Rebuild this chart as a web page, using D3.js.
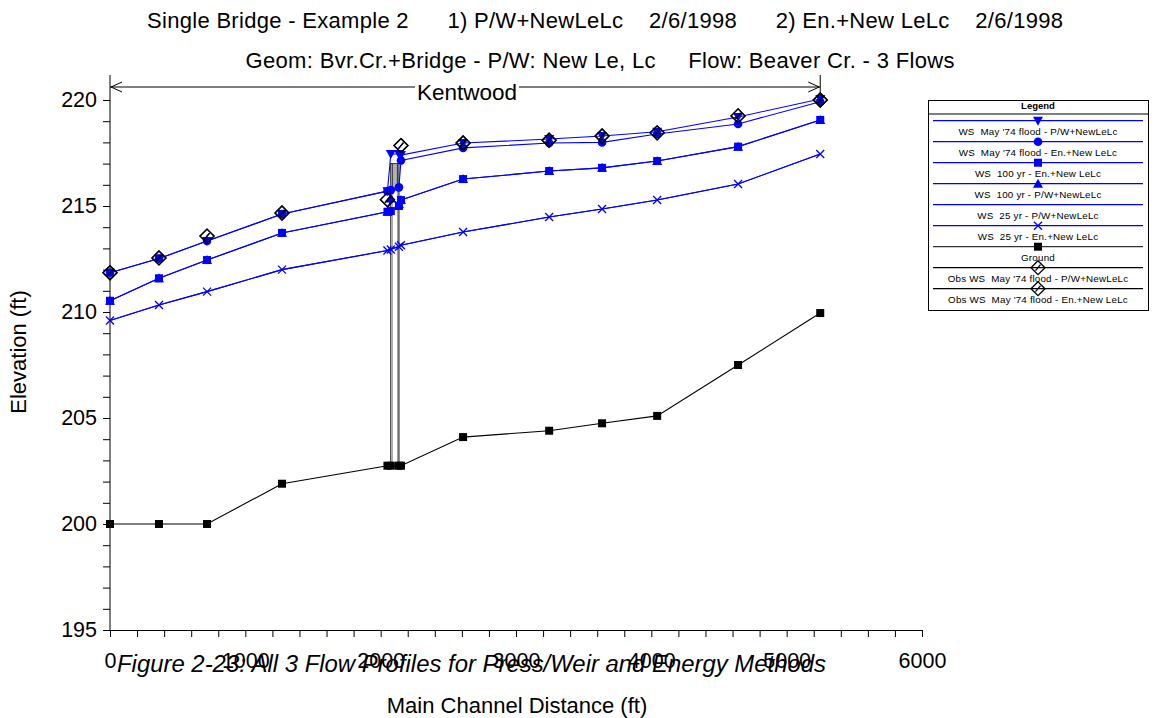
<!DOCTYPE html>
<html><head><meta charset="utf-8">
<script src="https://cdn.jsdelivr.net/npm/d3@7"></script>
<style>body{margin:0;background:#fff} text{font-family:"Liberation Sans",Arial,sans-serif}</style>
</head><body><svg id="c" width="1157" height="718" xmlns="http://www.w3.org/2000/svg"></svg>
<script>
// ---- data ----
const stations = [0, 362, 717, 1271, 2050, 2075, 2135, 2150, 2609, 3245, 3636, 4043, 4641, 5248];
const ground   = [200.0, 200.0, 200.0, 201.9, 202.75, 202.75, 202.75, 202.75, 204.1, 204.4, 204.75, 205.1, 207.5, 209.95];
const ws25PW   = [209.6, 210.33, 210.96, 212.0, 212.9, 212.97, 213.1, 213.15, 213.77, 214.48, 214.86, 215.28, 216.04, 217.45];
const ws25En   = [209.6, 210.33, 210.96, 212.0, 212.9, 212.95, 213.08, 213.15, 213.77, 214.48, 214.86, 215.28, 216.04, 217.45];
const ws100En  = [210.53, 211.59, 212.45, 213.73, 214.73, 214.76, 215.0, 215.28, 216.27, 216.65, 216.8, 217.12, 217.8, 219.06];
const ws100PW  = [210.53, 211.59, 212.45, 213.73, 214.73, 215.35, 215.1, 215.28, 216.27, 216.65, 216.8, 217.12, 217.8, 219.06];
const wsMayPW  = [211.85, 212.52, 213.35, 214.62, 215.7, 217.45, 217.45, 217.4, 217.97, 218.16, 218.3, 218.5, 219.2, 220.05];
const wsMayEn  = [211.85, 212.52, 213.35, 214.62, 215.7, 215.75, 215.88, 217.15, 217.74, 217.97, 218.0, 218.4, 218.87, 219.92];
const obsStations = [0, 362, 717, 1271, 2050, 2150, 2609, 3245, 3636, 4043, 4641, 5248];
const obsMayPW = [211.85, 212.55, 213.58, 214.67, 215.3, 217.85, 217.97, 218.1, 218.3, 218.45, 219.25, 220.0];
const obsMayEn = [211.85, 212.55, 213.58, 214.67, 215.3, 217.85, 217.97, 218.1, 218.3, 218.45, 219.25, 220.0];
const bridgeFaces = [2075, 2135];
const bridgeChords = [215.75, 217.0];
const reachStart = 0, reachEnd = 5248, reachName = "Kentwood";
const xTickValues = d3.range(0, 6001, 200);
const yTickValues = d3.range(195, 221, 1);
const legendLabels = [
  "WS  May '74 flood - P/W+NewLeLc",
  "WS  May '74 flood - En.+New LeLc",
  "WS  100 yr - En.+New LeLc",
  "WS  100 yr - P/W+NewLeLc",
  "WS  25 yr - P/W+NewLeLc",
  "WS  25 yr - En.+New LeLc",
  "Ground",
  "Obs WS  May '74 flood - P/W+NewLeLc",
  "Obs WS  May '74 flood - En.+New LeLc"
];
const titleLine1 = "Single Bridge - Example 2      1) P/W+NewLeLc    2/6/1998      2) En.+New LeLc    2/6/1998";
const titleLine2 = "Geom: Bvr.Cr.+Bridge - P/W: New Le, Lc     Flow: Beaver Cr. - 3 Flows";
const caption = "Figure 2-23: All 3 Flow Profiles for Press/Weir and Energy Methods";

// ---- drawing ----
const svg = d3.select("#c");
const BLUE = "#0000ff";
const x = d3.scaleLinear().domain([0, 6000]).range([110, 922]);
const y = d3.scaleLinear().domain([195, 220]).range([630, 100]);
const yTop = 221.18;

// titles
svg.append("text").attr("x", 605).attr("y", 28).attr("text-anchor", "middle")
  .attr("font-size", 22).style("white-space", "pre").attr("textLength", 916).attr("lengthAdjust", "spacing").text(titleLine1);
svg.append("text").attr("x", 600).attr("y", 68).attr("text-anchor", "middle")
  .attr("font-size", 22).style("white-space", "pre").attr("textLength", 709).attr("lengthAdjust", "spacing").text(titleLine2);

// axes
const yAxis = d3.axisLeft(y).tickValues(yTickValues).tickSize(7).tickSizeOuter(0)
  .tickFormat(d => d % 5 === 0 ? d : "");
const gy = svg.append("g").attr("transform", "translate(110,0)").call(yAxis);
gy.select(".domain").remove();
gy.append("line").attr("x1", 0).attr("x2", 0).attr("y1", y(yTop)).attr("y2", y(195)).attr("stroke", "#000");
gy.selectAll("text").attr("font-size", 21.5).attr("fill", "#000").attr("dx", "-3");

const xAxis = d3.axisBottom(x).tickValues(xTickValues).tickSize(7).tickSizeOuter(0)
  .tickFormat(d => d % 1000 === 0 ? d : "");
const gx = svg.append("g").attr("transform", "translate(0,630)").call(xAxis);
gx.selectAll("text").attr("font-size", 21.5).attr("fill", "#000").attr("dy", "1.3em");

svg.append("text").attr("transform", "translate(26,352) rotate(-90)").attr("text-anchor", "middle")
  .attr("font-size", 22).text("Elevation (ft)");
svg.append("text").attr("x", 517).attr("y", 713).attr("text-anchor", "middle")
  .attr("font-size", 22).text("Main Channel Distance (ft)");

// reach annotation
const ry = 87;
const rg = svg.append("g").attr("stroke", "#000").attr("fill", "none");
rg.append("line").attr("x1", x(reachStart)).attr("x2", x(reachEnd)).attr("y1", ry).attr("y2", ry);
rg.append("line").attr("x1", x(reachEnd)).attr("x2", x(reachEnd)).attr("y1", 75).attr("y2", 97);
rg.append("path").attr("d", `M${x(reachStart)+12},${ry-5}L${x(reachStart)+1},${ry}L${x(reachStart)+12},${ry+5}`);
rg.append("path").attr("d", `M${x(reachEnd)-12},${ry-5}L${x(reachEnd)-1},${ry}L${x(reachEnd)-12},${ry+5}`);
const kx = 467;
svg.append("rect").attr("x", kx - 52).attr("y", ry - 8).attr("width", 104).attr("height", 16).attr("fill", "#fff");
svg.append("text").attr("x", kx).attr("y", ry + 13).attr("text-anchor", "middle").attr("font-size", 22.5).text(reachName);

// bridge
const bg = svg.append("g");
bg.append("rect").attr("x", x(bridgeFaces[0])).attr("y", y(bridgeChords[1]))
  .attr("width", x(bridgeFaces[1]) - x(bridgeFaces[0])).attr("height", y(202.75) - y(bridgeChords[1]))
  .attr("fill", "none").attr("stroke", "#000");
bg.append("rect").attr("x", x(bridgeFaces[0]) + 1.5).attr("y", y(bridgeChords[1]))
  .attr("width", x(bridgeFaces[1]) - x(bridgeFaces[0]) - 3).attr("height", y(202.75) - y(bridgeChords[1]))
  .attr("fill", "none").attr("stroke", "#999");
bg.append("rect").attr("x", x(bridgeFaces[0]) + 1.5).attr("y", y(bridgeChords[1]))
  .attr("width", x(bridgeFaces[1]) - x(bridgeFaces[0]) - 3).attr("height", y(bridgeChords[0]) - y(bridgeChords[1]))
  .attr("fill", "#b0b0b0").attr("stroke", "#333");

const line = d3.line().x(d => x(d[0])).y(d => y(d[1]));
const zipS = (xs, vs) => xs.map((s, i) => [s, vs[i]]);

const series = [
  { vals: ground, st: stations, color: "#000", marker: "square" },
  { vals: ws25PW, st: stations, color: BLUE, marker: null },
  { vals: ws25En, st: stations, color: BLUE, marker: "x" },
  { vals: ws100PW, st: stations, color: BLUE, marker: "tri" },
  { vals: ws100En, st: stations, color: BLUE, marker: "square" },
  { vals: wsMayEn, st: stations, color: BLUE, marker: "circle" },
  { vals: wsMayPW, st: stations, color: BLUE, marker: "itri" },
];
series.forEach(s => {
  svg.append("path").datum(zipS(s.st, s.vals)).attr("d", line)
    .attr("fill", "none").attr("stroke", s.color).attr("stroke-width", 1.1);
});

function drawMarker(g, type, cx, cy, color) {
  if (type === "square") {
    g.append("rect").attr("x", cx - 4).attr("y", cy - 4).attr("width", 8).attr("height", 8).attr("fill", color);
  } else if (type === "circle") {
    g.append("circle").attr("cx", cx).attr("cy", cy).attr("r", 4.3).attr("fill", color);
  } else if (type === "tri") {
    g.append("path").attr("d", `M${cx},${cy-5}L${cx+5},${cy+4}L${cx-5},${cy+4}Z`).attr("fill", color);
  } else if (type === "itri") {
    g.append("path").attr("d", `M${cx},${cy+5}L${cx+5},${cy-4}L${cx-5},${cy-4}Z`).attr("fill", color);
  } else if (type === "x") {
    g.append("path").attr("d", `M${cx-4},${cy-4}L${cx+4},${cy+4}M${cx+4},${cy-4}L${cx-4},${cy+4}`)
      .attr("stroke", color).attr("stroke-width", 1.3).attr("fill", "none");
  } else if (type === "diamond") {
    g.append("path").attr("d", `M${cx},${cy-7}L${cx+7},${cy}L${cx},${cy+7}L${cx-7},${cy}Z`)
      .attr("fill", "none").attr("stroke", "#000").attr("stroke-width", 1.3);
    g.append("path").attr("d", `M${cx-2.5},${cy+3}L${cx+2.5},${cy-3}`)
      .attr("fill", "none").attr("stroke", "#000").attr("stroke-width", 1.3);
  }
}
const mg = svg.append("g");
series.forEach(s => {
  if (!s.marker) return;
  s.st.forEach((st, i) => drawMarker(mg, s.marker, x(st), y(s.vals[i]), s.color));
});
[obsMayPW, obsMayEn].forEach(vals => {
  obsStations.forEach((st, i) => drawMarker(mg, "diamond", x(st), y(vals[i]), "#000"));
});

// legend
const lg = svg.append("g");
lg.append("rect").attr("x", 928.5).attr("y", 100.5).attr("width", 220).attr("height", 210)
  .attr("fill", "#fff").attr("stroke", "#000");
lg.append("text").attr("x", 1038).attr("y", 109).attr("text-anchor", "middle")
  .attr("font-size", 9.5).attr("font-weight", "bold").text("Legend");
lg.append("line").attr("x1", 928.5).attr("x2", 1148.5).attr("y1", 114).attr("y2", 114).attr("stroke", "#000");
const legendStyles = [
  { color: BLUE, marker: "itri" }, { color: BLUE, marker: "circle" }, { color: BLUE, marker: "square" },
  { color: BLUE, marker: "tri" }, { color: BLUE, marker: null }, { color: BLUE, marker: "x" },
  { color: "#333", marker: "square" }, { color: "#000", marker: "diamond" }, { color: "#000", marker: "diamond" }
];
legendLabels.forEach((lab, i) => {
  const ly = 120.7 + 21 * i;
  lg.append("line").attr("x1", 933).attr("x2", 1143).attr("y1", ly).attr("y2", ly)
    .attr("stroke", legendStyles[i].color).attr("stroke-width", 1.2);
  if (legendStyles[i].marker) drawMarker(lg, legendStyles[i].marker, 1038, ly, legendStyles[i].color === "#333" ? "#000" : legendStyles[i].color);
  lg.append("text").attr("x", 1038).attr("y", ly + 14.5).attr("text-anchor", "middle")
    .attr("font-size", 9.8).style("white-space", "pre").attr("letter-spacing", 0.2).text(lab);
});

// caption
svg.append("text").attr("x", 117).attr("y", 672).attr("font-size", 23).attr("font-style", "italic")
  .attr("textLength", 709).attr("lengthAdjust", "spacingAndGlyphs").text(caption);
</script></body></html>
